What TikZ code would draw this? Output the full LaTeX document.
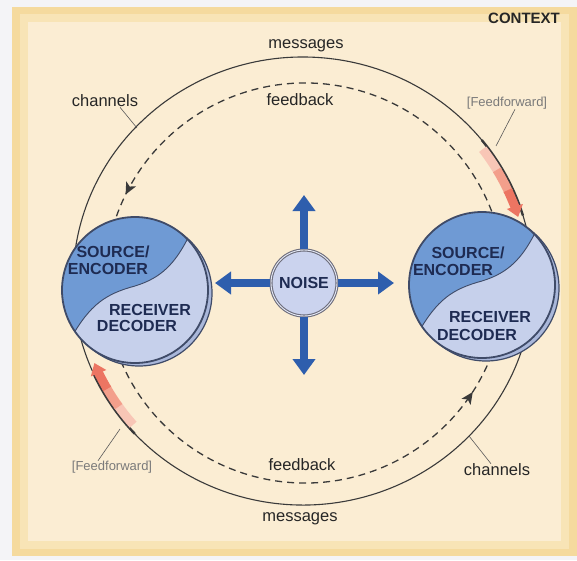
\documentclass[tikz,border=0pt]{standalone}
\usepackage{fontspec}
\setmainfont{Liberation Sans}
\usetikzlibrary{arrows.meta,decorations.markings}

\definecolor{pagebg}{HTML}{F4F4F7}
\definecolor{panelouter}{HTML}{F5DA9E}
\definecolor{panelmid}{HTML}{F8E4B6}
\definecolor{panelinner}{HTML}{FBEDD3}
\definecolor{unitdark}{HTML}{6F9AD4}
\definecolor{unitlight}{HTML}{C6D0EB}
\definecolor{unitrim}{HTML}{A9B7DA}
\definecolor{unitline}{HTML}{3F4B68}
\definecolor{unittext}{HTML}{1E2B52}
\definecolor{noisefill}{HTML}{CBD3EE}
\definecolor{noiseline}{HTML}{6E6E7C}
\definecolor{noiseblue}{HTML}{2E5EAD}
\definecolor{ffpale}{HTML}{F8C6B6}
\definecolor{ffmid}{HTML}{F39F8B}
\definecolor{ffdeep}{HTML}{EC7562}
\definecolor{inkline}{HTML}{3A3A3A}
\definecolor{labelgrey}{HTML}{7A7A7A}

\begin{document}
\begin{tikzpicture}[x=1pt,y=-1pt,
  msgline/.style={draw=inkline, line width=1.1pt},
  fbline/.style={draw=inkline, line width=1.3pt, dash pattern=on 7pt off 5pt},
  fbarrow/.style={postaction={decorate},
    decoration={markings, mark=at position #1 with
      {\fill[inkline] (4pt,0pt) -- (-8pt,5.5pt) -- (-5pt,0pt) -- (-8pt,-5.5pt) -- cycle;}}},
  lbl/.style={inner sep=0pt, font=\fontsize{16.5}{18}\selectfont, text=black!85},
  fflbl/.style={inner sep=0pt, font=\fontsize{13}{15}\selectfont, text=labelgrey},
  unittxt/.style={inner sep=0pt, font=\bfseries\fontsize{16}{18}\selectfont, text=unittext},
  unit/.style={circle, minimum size=146pt, inner sep=0pt, fill=unitlight},
  noisearrow/.style={draw=noiseblue, line width=8pt, -{Triangle[width=22pt,length=16pt]}},
  ffarrow/.style={line width=9pt},
  leader/.style={draw=black!65, line width=0.6pt},
]
\useasboundingbox (0,0) rectangle (577,560);

% page and framed panel
\fill[pagebg] (0,0) rectangle (577,560);
\fill[panelouter] (12,7) rectangle (577,556);
\fill[panelmid] (20,14) rectangle (569,549);
\fill[panelinner] (28,22) rectangle (561,541);

% message channels (outer ring)
\draw[msgline] (303,281) ++(188:230 and 224)
  arc[start angle=188, end angle=346, x radius=230, y radius=224];
\draw[msgline] (303,281) ++(17:230 and 224)
  arc[start angle=17, end angle=165, x radius=230, y radius=224];

% feedback (inner dashed ring)
\draw[fbline, fbarrow=0.94] (305,283) ++(339:200)
  arc[start angle=339, end angle=199, radius=200];
\draw[fbline, fbarrow=0.91] (305,283) ++(157:200)
  arc[start angle=157, end angle=22, radius=200];

% feedforward arrows riding on the channels
\draw[line width=2.4pt, inkline] (303,281) ++(321:230 and 224)
  arc[start angle=321, end angle=343, x radius=230, y radius=224];
\draw[ffarrow, ffpale] (303,281) ++(323:225 and 219)
  arc[start angle=323, end angle=330, x radius=225, y radius=219];
\draw[ffarrow, ffmid] (303,281) ++(329.5:225 and 219)
  arc[start angle=329.5, end angle=336, x radius=225, y radius=219];
\draw[ffarrow, ffdeep, -{Triangle[width=16pt,length=11pt]}] (303,281) ++(335.5:225 and 219)
  arc[start angle=335.5, end angle=343, x radius=225, y radius=219];

\draw[line width=2.4pt, inkline] (303,281) ++(137:230 and 224)
  arc[start angle=137, end angle=156, x radius=230, y radius=224];
\draw[ffarrow, ffpale] (303,281) ++(139:225 and 219)
  arc[start angle=139, end angle=145.5, x radius=225, y radius=219];
\draw[ffarrow, ffmid] (303,281) ++(145:225 and 219)
  arc[start angle=145, end angle=151, x radius=225, y radius=219];
\draw[ffarrow, ffdeep, -{Triangle[width=16pt,length=11pt]}] (303,281) ++(150.5:225 and 219)
  arc[start angle=150.5, end angle=158, x radius=225, y radius=219];

% source/encoder - receiver/decoder units
\foreach \n/\cx/\cy in {L/135/290, R/482/285}{
  \filldraw[fill=unitrim, draw=unitline, line width=1.2pt] (\cx+4,\cy+3) circle[radius=73];
  \node[unit] (\n) at (\cx,\cy) {};
  \begin{scope}
    \clip (\cx,\cy) circle[radius=73];
    \fill[unitdark, shift={(\cx,\cy)}] (-90,60) -- (-64,48)
      .. controls (-45,15) and (-30,4) .. (0,-4)
      .. controls (26,-12) and (40,-26) .. (54,-54) -- (60,-95) -- (-95,-95) -- cycle;
    \draw[unitline, line width=0.9pt, shift={(\cx,\cy)}] (-64,48)
      .. controls (-45,15) and (-30,4) .. (0,-4)
      .. controls (26,-12) and (40,-26) .. (54,-54);
  \end{scope}
  \draw[unitline, line width=1.8pt] (\n) circle[radius=73];
}

\node[unittxt] (Ls) at (113,252) {SOURCE/};
\node[unittxt] (Le) at (108,269) {ENCODER};
\node[unittxt] (Lr) at (150,310) {RECEIVER};
\node[unittxt] (Ld) at (137,326) {DECODER};
\node[unittxt] (Rs) at (468,253) {SOURCE/};
\node[unittxt] (Re) at (453,270) {ENCODER};
\node[unittxt] (Rr) at (490,317) {RECEIVER};
\node[unittxt] (Rd) at (477,335) {DECODER};

% noise source radiating outwards
\node[circle, minimum size=66pt, inner sep=0pt, fill=noisefill, draw=noiseline,
  line width=1.1pt, double=noisefill!50!white, double distance=0.9pt,
  font=\bfseries\fontsize{16}{18}\selectfont, text=unittext] (N) at (304,283) {NOISE};
\coordinate (nu) at (304,195);
\coordinate (nd) at (304,375);
\coordinate (nl) at (215,283);
\coordinate (nr) at (394,283);
\draw[noisearrow] (N.north) -- (nu);
\draw[noisearrow] (N.south) -- (nd);
\draw[noisearrow] (N.west) -- (nl);
\draw[noisearrow] (N.east) -- (nr);

% labels
\node[lbl, font=\bfseries\fontsize{15}{17}\selectfont] (ctx) at (524,18) {CONTEXT};
\node[lbl] (msgT) at (306,46) {messages};
\node[lbl] (fbT) at (300,100) {feedback};
\node[lbl] (chT) at (105,101) {channels};
\node[fflbl] (ffR) at (507,103) {[Feedforward]};
\node[lbl] (fbB) at (302,465) {feedback};
\node[lbl] (chB) at (497,470) {channels};
\node[lbl] (msgB) at (300,519) {messages};
\node[fflbl] (ffL) at (112,467) {[Feedforward]};

% leader lines
\coordinate (chTtip) at (137,128);
\coordinate (chBtip) at (469,436);
\coordinate (ffRtip) at (496,146);
\coordinate (ffLtip) at (120,429);
\draw[leader] ([xshift=15pt]chT.south) -- (chTtip);
\draw[leader] ([xshift=-6pt]chB.north) -- (chBtip);
\draw[leader] ([xshift=8pt]ffR.south) -- (ffRtip);
\draw[leader] ([xshift=-14pt]ffL.north) -- (ffLtip);
\end{tikzpicture}
\end{document}
